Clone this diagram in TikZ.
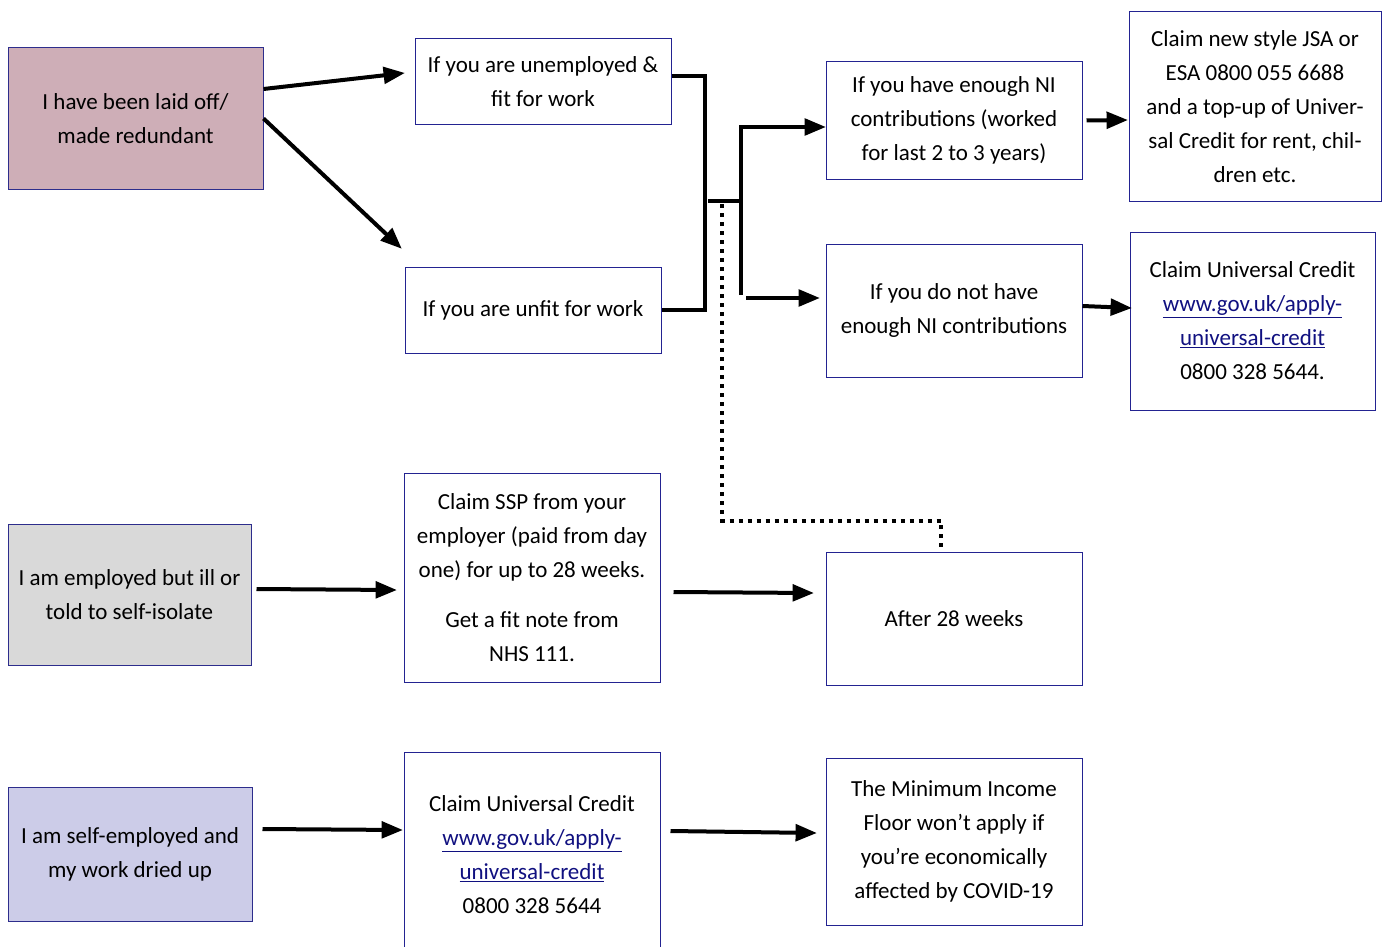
\documentclass[tikz,border=0pt]{standalone}
\usepackage{fontspec}
\setmainfont{Carlito}
\usepackage{tikz}
\usetikzlibrary{arrows}
\definecolor{cpink}{RGB}{206,174,183}
\definecolor{cgrey}{RGB}{217,217,217}
\definecolor{clilac}{RGB}{204,204,232}
\definecolor{cedge}{RGB}{35,35,145}
\definecolor{cshade}{RGB}{45,45,140}
\definecolor{clink}{RGB}{16,16,128}
\newcommand{\weblink}[1]{\textcolor{clink}{\underline{#1}}}

\begin{document}
\begin{tikzpicture}[x=1pt,y=-1pt,>=triangle 45,
  info box/.style={rectangle,draw=cedge,line width=1pt,align=center,inner sep=0pt,
        font=\fontsize{23}{34}\selectfont},
  start box/.style={info box,draw=cshade},
  arrow line/.style={->,line width=4pt},
  plain line/.style={line width=4pt},
  dot line/.style={line width=4pt,dash pattern=on 4pt off 5pt}]
  \clip (0,0) rectangle (1386,947);

  % first column
  \node[start box,fill=cpink,minimum width=255,minimum height=141] (laid) at (135.5,118.5)
    {I have been laid off/\\made redundant};
  \node[start box,fill=cgrey,minimum width=243,minimum height=141] (ill) at (129.5,594.5)
    {I am employed but ill or\\told to self-isolate};
  \node[start box,fill=clilac,minimum width=244,minimum height=134] (self) at (130,854)
    {I am self-employed and\\my work dried up};

  % second column
  \node[info box,minimum width=256,minimum height=86] (unemp) at (543,82)
    {If you are unemployed \&\\fit for work};
  \node[info box,minimum width=256,minimum height=86] (unfit) at (533,310)
    {If you are unfit for work};
  \node[info box,minimum width=256,minimum height=209] (ssp) at (532,577.5)
    {Claim SSP from your\\employer (paid from day\\one) for up to 28 weeks.\\[16pt]
     Get a fit note from\\NHS 111.};
  \node[info box,minimum width=256,minimum height=205] (uc2) at (532,854.5)
    {Claim Universal Credit\\\weblink{www.gov.uk/apply-}\\\weblink{universal-credit}\\0800 328 5644};

  % third column
  \node[info box,minimum width=256,minimum height=117] (enough) at (954,120.5)
    {If you have enough NI\\contributions (worked\\for last 2 to 3 years)};
  \node[info box,minimum width=256,minimum height=133] (notenough) at (954,310.5)
    {If you do not have\\enough NI contributions};
  \node[info box,minimum width=256,minimum height=133] (after) at (954,618.5)
    {After 28 weeks};
  \node[info box,minimum width=256,minimum height=167] (mif) at (954,841.5)
    {The Minimum Income\\Floor won't apply if\\you're economically\\affected by COVID-19};

  % fourth column
  \node[info box,minimum width=252,minimum height=189] (jsa) at (1255,106.5)
    {Claim new style JSA or\\ESA 0800 055 6688\\and a top-up of Univer-\\sal Credit for rent, chil-\\dren etc.};
  \node[info box,minimum width=245,minimum height=178] (uc1) at (1252.5,321)
    {Claim Universal Credit\\\weblink{www.gov.uk/apply-}\\\weblink{universal-credit}\\0800 328 5644.};

  % free ends of the joined lines
  \coordinate (stub) at (708,201);
  \coordinate (fork) at (741,295);
  \coordinate (lower) at (746,298);
  \coordinate (dotstart) at (722,204);

  \draw[arrow line] ([yshift=29.5pt]laid.east) -- ([xshift=-10pt,yshift=9pt]unemp.west);
  \draw[arrow line] (laid.east) -- ([xshift=-3pt,yshift=18pt]unfit.north west);
  \draw[plain line] ([yshift=6pt]unemp.east) -| ([xshift=43pt]unfit.east) -- (unfit.east);
  \draw[plain line] (stub) -- (stub -| fork);
  \draw[arrow line] (fork) |- ([yshift=-6.5pt]enough.west);
  \draw[arrow line] (lower) -- ([xshift=-6pt,yshift=12.5pt]notenough.west);
  \draw[dot line] (dotstart) |- ([xshift=-13pt,yshift=31pt]after.north) -- ([xshift=-13pt,yshift=2pt]after.north);
  \draw[arrow line] ([xshift=4pt]enough.east) -- ([xshift=-1pt,yshift=-13.5pt]jsa.west);
  \draw[arrow line] ([yshift=4.5pt]notenough.east) -- ([xshift=2pt,yshift=13pt]uc1.west);
  \draw[arrow line] ([xshift=5pt,yshift=5.5pt]ill.east) -- ([xshift=-7pt,yshift=-12.5pt]ssp.west);
  \draw[arrow line] ([xshift=13pt,yshift=-14.5pt]ssp.east) -- ([xshift=-12pt,yshift=25.5pt]after.west);
  \draw[arrow line] ([xshift=10pt,yshift=25pt]self.east) -- ([xshift=-1pt,yshift=24.5pt]uc2.west);
  \draw[arrow line] ([xshift=10pt,yshift=23.5pt]uc2.east) -- ([xshift=-9pt,yshift=8.5pt]mif.west);
\end{tikzpicture}
\end{document}
